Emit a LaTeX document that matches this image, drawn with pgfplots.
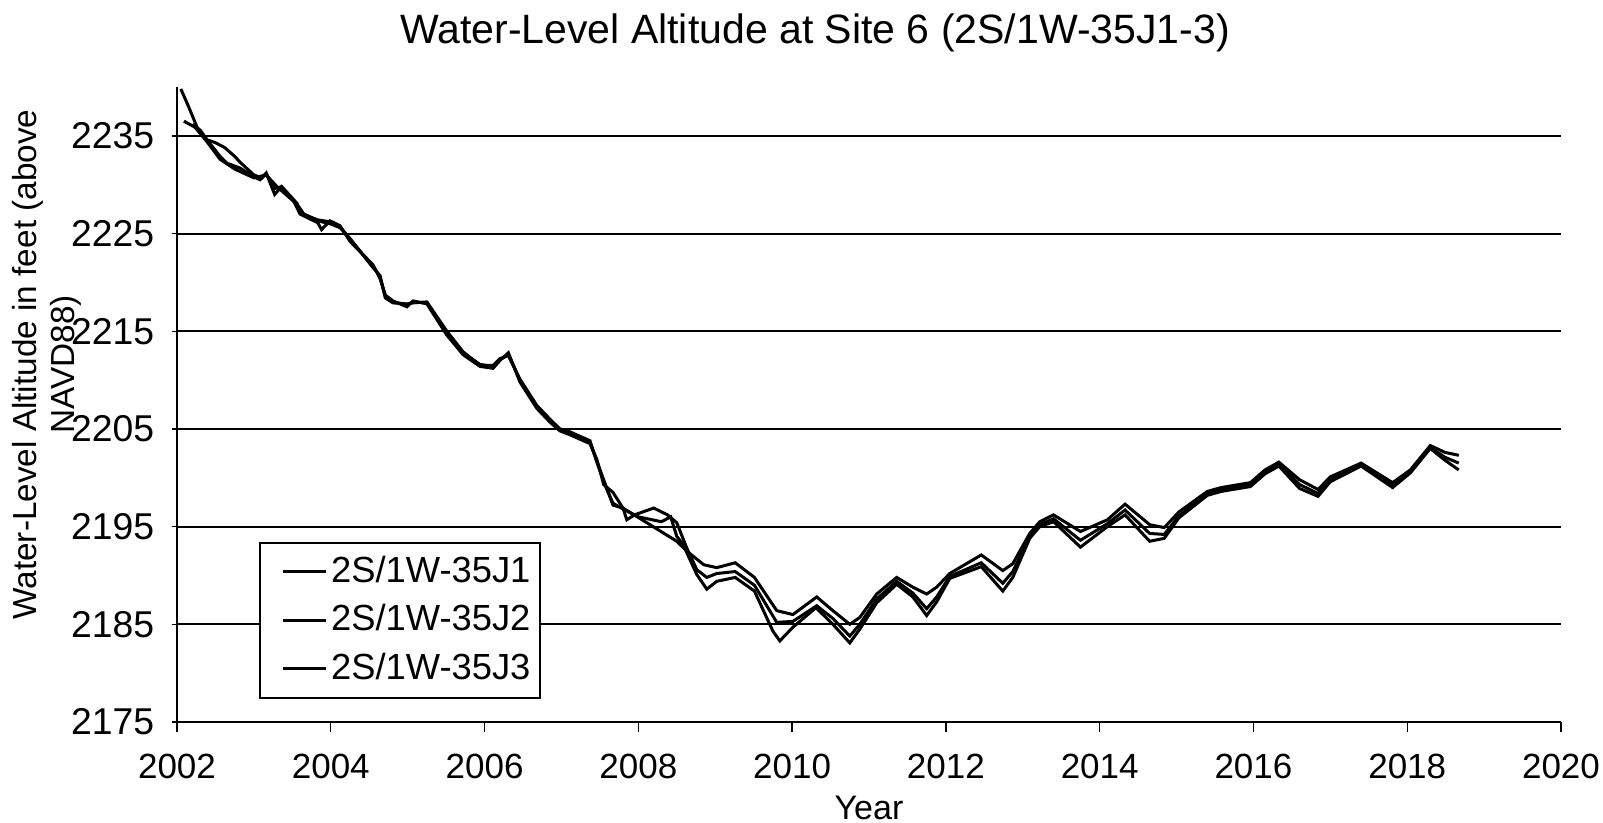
\documentclass[border=0pt]{standalone}
\usepackage{pgfplots}
\pgfplotsset{compat=1.18}
\usepackage{fontspec}
\setmainfont{Liberation Sans}
\begin{document}
\begin{tikzpicture}
\path[use as bounding box] (-53.1pt,-30pt) rectangle (427.8pt,216.6pt);
\begin{axis}[
  at={(0,0)}, anchor=south west, clip=false,
  scale only axis, width=415.2pt, height=190.5pt,
  xmin=2002, xmax=2020, ymin=2175, ymax=2240,
  axis x line*=bottom, axis y line*=left,
  axis line style={black, line width=0.6pt},
  xtick={2002,2004,...,2020},
  ytick={2175,2185,...,2235},
  x tick label style={/pgf/number format/1000 sep={}, font=\fontsize{10.5}{12}\selectfont, yshift=-3pt},
  y tick label style={/pgf/number format/1000 sep={}, font=\fontsize{11.2}{12}\selectfont, xshift=-1.8pt},
  /pgf/number format/assume math mode=true,
  xtick align=outside, ytick align=center,
  major tick length=3pt,
  tick style={black, line width=0.4pt},
  ymajorgrids, grid style={black, line width=0.6pt},
  legend style={at={(axis description cs:0.059,0.2835)}, anchor=north west,
    draw=black, fill=white, line width=0.6pt,
    font=\fontsize{10.9}{12}\selectfont, inner xsep=2pt, inner ysep=2pt,
    row sep=1.1pt, nodes={inner xsep=1pt}},
  legend cell align=left,
  legend image code/.code={\path[draw=none,fill=none] (0pt,-1pt) rectangle (4pt,1pt); \draw[black, line width=0.9pt] (5pt,0pt) -- (18pt,0pt);},
]
\addplot[black, line width=0.9pt] coordinates {
(2002.05,2239.8) (2002.15,2238.0) (2002.26,2235.9) (2002.39,2234.6) (2002.56,2232.9)
(2002.65,2232.2) (2002.82,2231.7) (2003.00,2230.8) (2003.08,2230.5) (2003.16,2231.1)
(2003.27,2229.6) (2003.36,2229.8) (2003.56,2228.1) (2003.60,2227.1) (2003.83,2226.4)
(2003.99,2226.2) (2004.12,2225.7) (2004.25,2224.4) (2004.55,2221.6) (2004.64,2220.6)
(2004.71,2218.5) (2004.81,2218.0) (2004.99,2217.7) (2005.07,2218.0) (2005.25,2217.9)
(2005.51,2214.8) (2005.72,2212.8) (2005.94,2211.6) (2006.11,2211.4) (2006.20,2212.1)
(2006.31,2212.6) (2006.46,2210.0) (2006.68,2207.3) (2006.85,2205.9) (2006.98,2204.9)
(2007.11,2204.6) (2007.37,2203.7) (2007.46,2201.7) (2007.67,2197.2) (2007.80,2196.9)
(2008.11,2195.4) (2008.50,2193.5) (2008.63,2192.5) (2008.85,2191.1) (2009.02,2190.8)
(2009.26,2191.3) (2009.51,2189.8) (2009.80,2186.4) (2010.01,2186.0) (2010.32,2187.8)
(2010.53,2186.4) (2010.75,2185.0) (2010.88,2185.7) (2011.10,2188.1) (2011.36,2189.8)
(2011.57,2188.8) (2011.75,2188.1) (2011.88,2188.8) (2012.05,2190.2) (2012.46,2192.1)
(2012.74,2190.5) (2012.87,2191.2) (2013.09,2194.3) (2013.22,2195.5) (2013.40,2196.2)
(2013.75,2194.5) (2014.10,2195.7) (2014.33,2197.3) (2014.65,2195.2) (2014.84,2194.9)
(2015.03,2196.5) (2015.40,2198.6) (2015.58,2199.0) (2015.96,2199.5) (2016.15,2200.8)
(2016.33,2201.6) (2016.60,2199.8) (2016.84,2198.8) (2017.00,2200.1) (2017.40,2201.5)
(2017.81,2199.5) (2018.04,2200.8) (2018.30,2203.3) (2018.49,2202.6) (2018.67,2202.3)
};
\addlegendentry{2S/1W-35J1}
\addplot[black, line width=0.9pt] coordinates {
(2002.09,2236.5) (2002.30,2235.6) (2002.39,2234.6) (2002.50,2234.3) (2002.62,2233.8)
(2002.75,2232.9) (2002.82,2232.3) (2003.00,2231.0) (2003.10,2230.7) (2003.16,2231.2)
(2003.27,2229.0) (2003.36,2229.8) (2003.50,2228.6) (2003.60,2227.0) (2003.83,2226.1)
(2003.88,2225.4) (2003.99,2226.3) (2004.12,2225.8) (2004.25,2224.2) (2004.55,2221.8)
(2004.64,2220.4) (2004.71,2218.7) (2004.81,2218.1) (2004.99,2217.5) (2005.07,2218.1)
(2005.25,2217.8) (2005.51,2214.6) (2005.72,2212.6) (2005.94,2211.4) (2006.11,2211.2)
(2006.20,2212.0) (2006.31,2212.8) (2006.46,2209.8) (2006.68,2207.1) (2006.85,2205.7)
(2006.98,2204.8) (2007.11,2204.4) (2007.37,2203.5) (2007.46,2201.9) (2007.55,2199.3)
(2007.67,2198.5) (2007.80,2196.9) (2007.85,2195.7) (2007.95,2196.2) (2008.20,2196.9)
(2008.38,2196.2) (2008.50,2195.4) (2008.63,2192.8) (2008.76,2190.6) (2008.89,2189.8)
(2009.02,2190.2) (2009.26,2190.4) (2009.51,2189.0) (2009.80,2185.2) (2010.01,2185.3)
(2010.32,2186.9) (2010.53,2185.6) (2010.75,2183.8) (2010.88,2185.0) (2011.10,2187.6)
(2011.36,2189.4) (2011.57,2188.2) (2011.75,2186.6) (2011.88,2187.8) (2012.05,2189.9)
(2012.46,2191.3) (2012.74,2189.2) (2012.87,2190.4) (2013.09,2194.0) (2013.22,2195.2)
(2013.40,2195.8) (2013.75,2193.6) (2014.10,2195.3) (2014.33,2196.7) (2014.65,2194.3)
(2014.84,2194.2) (2015.03,2196.1) (2015.40,2198.4) (2015.58,2198.8) (2015.96,2199.3)
(2016.15,2200.6) (2016.33,2201.4) (2016.60,2199.3) (2016.84,2198.4) (2017.00,2199.8)
(2017.40,2201.3) (2017.81,2199.2) (2018.04,2200.6) (2018.30,2203.1) (2018.49,2202.1)
(2018.67,2201.5)
};
\addlegendentry{2S/1W-35J2}
\addplot[black, line width=0.9pt] coordinates {
(2002.20,2236.2) (2002.39,2234.4) (2002.56,2232.6) (2002.75,2231.6) (2003.00,2230.7)
(2003.16,2231.0) (2003.30,2229.8) (2003.56,2228.0) (2003.65,2227.0) (2003.83,2226.3)
(2003.99,2226.0) (2004.12,2225.6) (2004.25,2224.5) (2004.55,2221.5) (2004.64,2220.7)
(2004.71,2218.4) (2004.81,2217.9) (2004.99,2217.8) (2005.07,2217.9) (2005.25,2218.0)
(2005.51,2215.0) (2005.72,2212.9) (2005.94,2211.5) (2006.11,2211.5) (2006.20,2212.2)
(2006.31,2212.5) (2006.46,2210.1) (2006.68,2207.4) (2006.85,2206.0) (2006.98,2205.0)
(2007.11,2204.7) (2007.37,2203.8) (2007.46,2201.6) (2007.58,2199.0) (2007.67,2197.4)
(2007.80,2196.8) (2008.00,2196.0) (2008.30,2195.5) (2008.42,2196.0) (2008.50,2194.0)
(2008.58,2193.2) (2008.76,2190.1) (2008.89,2188.6) (2009.02,2189.4) (2009.26,2189.8)
(2009.51,2188.4) (2009.75,2184.3) (2009.84,2183.3) (2010.01,2184.7) (2010.31,2186.7)
(2010.53,2185.0) (2010.75,2183.1) (2010.88,2184.5) (2011.10,2187.2) (2011.36,2189.1)
(2011.57,2187.8) (2011.75,2185.9) (2011.88,2187.3) (2012.05,2189.7) (2012.46,2190.9)
(2012.74,2188.4) (2012.87,2189.8) (2013.09,2193.8) (2013.22,2195.0) (2013.40,2195.5)
(2013.75,2192.9) (2014.10,2195.0) (2014.33,2196.2) (2014.65,2193.5) (2014.84,2193.8)
(2015.03,2195.9) (2015.40,2198.2) (2015.58,2198.6) (2015.96,2199.1) (2016.15,2200.4)
(2016.33,2201.2) (2016.60,2198.9) (2016.84,2198.1) (2017.00,2199.6) (2017.40,2201.2)
(2017.81,2199.0) (2018.04,2200.5) (2018.30,2203.0) (2018.49,2201.8) (2018.67,2200.8)
};
\addlegendentry{2S/1W-35J3}
\node[font=\fontsize{12.3}{14}\selectfont] at (axis description cs:0.461,1) [yshift=16.2pt] {Water-Level Altitude at Site 6 (2S/1W-35J1-3)};
\node[font=\fontsize{10.2}{12}\selectfont] at (axis description cs:0.5,0) [yshift=-25.8pt] {Year};
\node[rotate=90, align=center, font=\fontsize{10}{11.4}\selectfont] at (axis description cs:-0.094,0.563) {Water-Level Altitude in feet (above\\NAVD88)};
\end{axis}
\end{tikzpicture}
\end{document}
